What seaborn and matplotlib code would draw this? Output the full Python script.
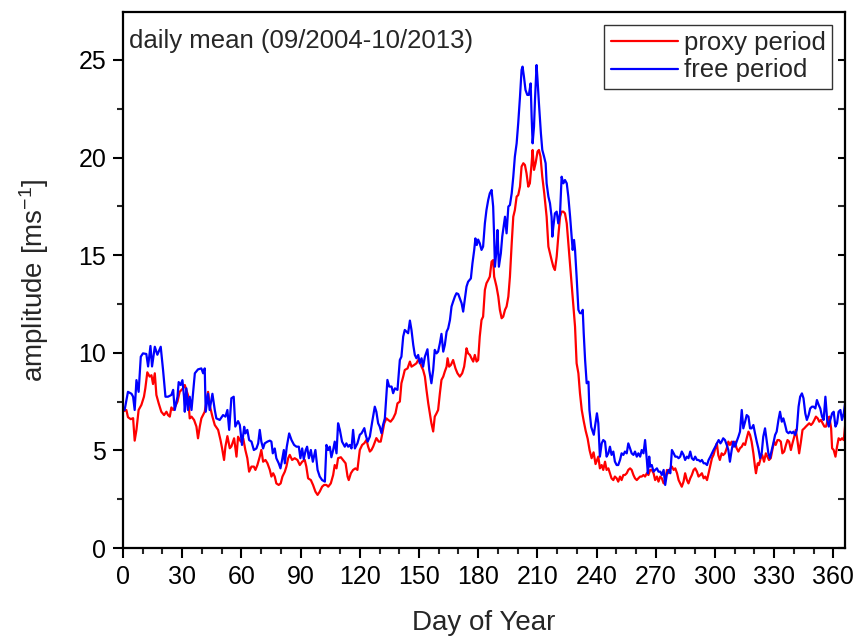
import numpy as np
import pandas as pd
import matplotlib
matplotlib.use("Agg")
import matplotlib.pyplot as plt
import seaborn as sns
from matplotlib.ticker import MultipleLocator

# ---- data (day of year, amplitude m/s) ----
proxy_day = [
    0.0, 1.7, 2.5, 3.9, 5.1, 5.9, 6.8, 7.9, 9.3, 10.6, 11.3, 12.3, 13.5, 14.4, 15.2, 16.1, 16.9, 18.1, 19.4, 20.8,
    22.0, 22.8, 23.7, 24.5, 25.4, 26.2, 27.6, 28.7, 30.4, 31.3, 32.1, 32.9, 33.8, 34.7, 36.0, 37.2, 38.0, 38.9, 39.7,
    41.4, 42.3, 43.1, 43.9, 45.3, 46.5, 48.2, 49.4, 50.2, 51.2, 51.9, 52.9, 54.1, 54.9, 56.3, 57.5, 58.3, 59.7, 60.9,
    62.0, 63.0, 63.9, 65.1, 66.3, 67.1, 68.1, 69.3, 70.1, 71.0, 72.2, 73.2, 74.4, 75.2, 76.1, 76.9, 77.7, 78.9, 79.9,
    80.8, 82.0, 82.8, 83.7, 84.5, 85.7, 87.0, 88.4, 89.6, 90.8, 92.1, 92.9, 93.8, 95.2, 96.3, 97.5, 98.6, 99.7, 100.9,
    101.9, 103.1, 104.0, 105.3, 106.5, 107.3, 108.2, 109.0, 110.4, 111.5, 112.8, 113.8, 114.4, 115.5, 116.6, 117.8,
    118.8, 120.0, 121.2, 122.3, 123.4, 124.2, 125.1, 125.9, 126.8, 128.4, 129.6, 130.6, 131.3, 132.4, 133.5, 134.4,
    135.6, 136.9, 138.1, 139.1, 140.3, 141.1, 142.0, 142.8, 144.2, 145.4, 146.2, 147.6, 148.7, 149.6, 150.4, 151.3,
    152.1, 153.0, 153.8, 154.7, 155.5, 156.3, 157.2, 158.0, 158.9, 159.7, 160.6, 161.4, 162.3, 163.1, 164.0, 164.5,
    165.3, 166.2, 167.3, 168.5, 169.5, 170.7, 171.9, 172.9, 173.6, 174.1, 174.9, 175.8, 176.6, 177.5, 178.3, 179.2,
    180.0, 180.8, 181.7, 182.5, 183.4, 184.2, 185.1, 185.9, 186.8, 187.6, 188.1, 189.3, 190.2, 191.0, 191.9, 192.7,
    193.6, 194.4, 195.3, 196.1, 197.0, 197.8, 198.6, 199.5, 200.3, 201.2, 202.0, 202.9, 203.7, 204.5, 205.4, 206.2,
    207.1, 207.6, 208.3, 209.1, 210.1, 210.8, 211.6, 212.5, 213.5, 214.7, 215.6, 216.4, 217.2, 218.1, 218.9, 219.8,
    220.6, 221.5, 222.3, 223.2, 224.0, 224.9, 225.7, 227.4, 229.1, 229.9, 230.8, 231.6, 232.5, 233.5, 234.5, 235.5,
    236.5, 237.5, 238.5, 239.5, 240.9, 241.7, 242.6, 243.4, 244.3, 245.1, 246.0, 246.8, 247.6, 248.5, 249.3, 250.2,
    251.0, 251.9, 252.7, 253.6, 254.4, 255.3, 256.1, 257.0, 257.8, 258.7, 259.5, 260.4, 261.2, 262.1, 262.9, 263.8,
    264.6, 265.5, 266.3, 267.2, 268.0, 268.9, 269.7, 270.6, 271.4, 272.3, 273.1, 274.0, 274.8, 275.7, 276.5, 277.4,
    278.2, 279.1, 279.9, 280.8, 281.6, 282.4, 283.2, 284.1, 284.9, 285.8, 286.6, 287.5, 288.3, 289.2, 290.0, 290.9,
    291.7, 292.6, 293.4, 294.3, 295.1, 296.0, 296.8, 297.7, 298.5, 299.3, 300.2, 301.0, 301.7, 302.5, 303.4, 304.2,
    305.1, 306.0, 306.8, 307.6, 308.5, 309.3, 310.2, 311.0, 311.9, 312.7, 313.6, 314.4, 315.3, 316.1, 317.0, 317.8,
    318.6, 319.5, 320.3, 320.8, 321.7, 322.3, 323.2, 324.0, 324.9, 325.8, 326.6, 327.4, 328.3, 329.1, 330.0, 330.8,
    331.7, 332.5, 333.4, 334.2, 335.1, 336.0, 336.8, 337.6, 338.5, 339.3, 340.2, 341.0, 341.9, 342.7, 343.6, 344.4,
    345.3, 346.1, 346.9, 347.8, 348.7, 349.5, 350.4, 351.2, 352.1, 352.9, 353.8, 354.6, 355.5, 356.3, 357.2, 358.0,
    358.9, 359.4, 360.2, 361.1, 361.9, 362.7, 363.6, 364.4, 365.3, 366.1,
]
proxy_amp = [
    7.0, 7.07, 6.7, 6.6, 6.65, 5.5, 6.05, 7.07, 7.33, 7.75, 8.18, 9.0, 8.78, 8.85, 8.4, 8.95, 7.84, 7.4, 6.98, 6.81,
    6.98, 6.81, 6.73, 7.2, 7.07, 7.2, 7.5, 8.0, 8.18, 8.35, 8.1, 7.84, 6.64, 6.73, 6.56, 6.22, 5.62, 6.22, 6.64,
    6.98, 7.5, 8.0, 7.33, 6.73, 6.3, 6.05, 5.53, 5.11, 4.51, 5.2, 5.73, 5.11, 5.2, 5.62, 4.68, 5.7, 5.45, 5.62,
    5.02, 4.6, 3.91, 4.17, 4.17, 4.0, 4.25, 4.68, 5.02, 4.42, 4.51, 4.34, 4.0, 3.66, 3.83, 3.66, 3.31, 3.23, 3.31,
    3.66, 3.91, 4.17, 4.6, 4.77, 4.51, 4.6, 4.51, 4.25, 4.42, 4.51, 4.17, 3.57, 3.48, 3.23, 2.89, 2.72, 2.89, 3.14,
    3.23, 3.23, 3.14, 3.31, 3.74, 4.25, 4.08, 4.6, 4.65, 4.51, 4.34, 3.66, 3.48, 3.83, 4.0, 4.08,
    4.0, 5.02, 5.28, 5.37, 5.54, 5.2, 4.94, 5.02, 5.2, 5.63, 5.45, 5.45, 5.8, 6.39, 6.64, 6.56,
    6.47, 6.64, 6.9, 7.41, 7.5, 8.44, 8.78, 9.12, 9.2, 9.55, 9.29, 9.38, 9.46, 9.63, 9.55, 9.29,
    9.12, 8.78, 8.1, 7.41, 6.9, 6.39, 5.97, 6.73, 6.9, 7.07, 7.93, 8.61, 8.78, 9.04, 9.29, 9.72,
    9.29, 9.38, 9.63, 9.2, 8.95, 8.78, 8.95, 9.29, 9.8, 10.23, 9.97, 9.89, 9.72, 9.55, 9.89, 9.55,
    9.63, 10.83, 11.68, 11.85, 13.22, 13.56, 13.73, 13.9, 14.67, 14.75, 13.9, 13.39, 12.88, 12.2, 11.77, 11.85,
    12.2, 12.37, 12.88, 13.9, 15.61, 16.97, 17.31, 18.0, 18.08, 18.51, 19.54, 19.71, 19.62, 19.2, 18.51, 18.68,
    19.71, 20.39, 19.37, 19.71, 20.31, 20.39, 20.05, 19.02, 18.17, 16.97, 15.44, 15.1, 14.76, 14.41, 14.24, 14.93,
    15.95, 16.97, 17.23, 17.23, 17.14, 16.63, 15.61, 13.39, 11.34, 9.46, 8.95, 7.93, 7.07, 6.5, 6.0, 5.6,
    5.0, 4.6, 4.9, 4.3, 4.68, 4.08, 4.25, 4.0, 4.42, 4.0, 4.08, 3.83, 3.57, 3.48, 3.66, 3.57,
    3.4, 3.66, 3.48, 3.74, 3.74, 3.83, 4.0, 4.08, 4.0, 3.74, 3.57, 3.48, 3.57, 3.66, 3.66, 3.74,
    3.66, 3.83, 3.74, 4.0, 4.0, 3.83, 3.48, 3.66, 3.4, 3.66, 3.57, 3.31, 3.48, 4.0, 3.83, 4.08,
    4.17, 4.0, 4.08, 3.83, 3.48, 3.31, 3.14, 3.4, 3.83, 3.48, 3.31, 3.57, 3.74, 4.0, 4.08, 3.91,
    3.66, 3.74, 3.83, 3.57, 3.66, 3.48, 3.83, 4.25, 4.6, 4.77, 5.11, 5.36, 4.76, 4.51, 4.85, 4.76,
    4.85, 5.11, 5.45, 5.28, 5.45, 5.19, 5.45, 5.11, 4.94, 5.11, 5.19, 5.36, 5.28, 5.62, 5.96, 5.79,
    5.45, 4.85, 4.17, 3.83, 4.34, 4.25, 4.6, 4.76, 4.42, 4.85, 4.68, 4.51, 4.6, 5.02, 5.45, 5.28,
    5.53, 5.53, 5.45, 4.85, 4.94, 5.28, 5.53, 5.45, 5.02, 5.36, 5.7, 6.05, 5.45, 4.85, 5.45, 6.05,
    6.13, 6.22, 6.3, 6.39, 6.3, 6.39, 6.56, 6.73, 6.64, 6.47, 6.56, 6.39, 6.22, 6.22, 6.56, 6.73,
    6.13, 5.11, 5.02, 4.68, 5.19, 5.62, 5.53, 5.62, 5.53, 6.39,
]

free_day = [
    0.0, 0.8, 2.5, 4.3, 5.1, 5.9, 6.8, 7.9, 9.0, 10.1, 11.8, 12.7, 13.9, 14.7, 16.1, 17.4, 19.1, 20.3, 21.5, 22.8,
    24.5, 25.4, 26.2, 27.6, 28.2, 29.2, 30.1, 30.9, 31.3, 32.1, 32.9, 33.8, 34.7, 36.4, 38.0, 39.7, 40.6, 41.4, 41.9,
    43.1, 43.9, 45.3, 46.5, 47.3, 49.0, 50.7, 51.9, 52.9, 53.8, 54.9, 56.1, 56.9, 58.3, 59.2, 60.3, 61.4, 62.0, 63.0,
    63.9, 65.1, 66.3, 67.6, 68.5, 69.3, 70.1, 71.0, 71.8, 73.2, 74.4, 75.2, 75.9, 76.9, 77.7, 78.9, 79.8, 80.6, 81.5,
    82.0, 83.0, 84.2, 85.4, 86.7, 87.9, 89.1, 89.9, 90.8, 91.6, 92.6, 93.3, 94.2, 95.2, 96.2, 97.5, 98.6, 99.7, 100.9,
    102.3, 103.1, 104.0, 104.8, 105.6, 106.5, 107.3, 108.2, 109.0, 109.9, 111.0, 112.4, 113.2, 114.1, 114.9, 115.8,
    116.6, 117.5, 118.8, 120.0, 120.9, 122.3, 123.0, 124.0, 125.1, 126.3, 127.6, 128.4, 129.3, 130.1, 131.0, 131.8,
    132.7, 134.0, 134.9, 136.1, 136.9, 137.8, 139.1, 140.3, 141.1, 142.0, 142.8, 143.7, 144.5, 145.4, 146.2, 147.1,
    147.9, 148.7, 149.6, 150.4, 151.3, 152.1, 153.0, 154.3, 155.2, 156.0, 156.3, 157.2, 158.0, 158.9, 159.7, 160.6,
    161.4, 162.3, 163.1, 164.0, 164.8, 165.7, 166.5, 167.3, 168.2, 169.0, 169.9, 170.7, 171.6, 172.4, 173.3, 174.1,
    174.9, 176.3, 177.1, 178.0, 178.6, 179.3, 180.0, 180.8, 181.7, 182.5, 183.4, 184.2, 185.1, 185.9, 186.8, 187.6,
    188.1, 188.5, 189.3, 189.8, 190.5, 191.5, 192.2, 193.6, 194.4, 195.3, 196.1, 197.0, 197.8, 198.6, 199.5, 200.3,
    201.2, 202.0, 202.5, 203.2, 204.0, 204.9, 205.7, 206.6, 207.1, 207.6, 208.3, 208.8, 209.6, 210.1, 210.8, 211.8,
    212.5, 213.4, 214.2, 214.7, 215.6, 216.4, 217.2, 217.6, 218.1, 218.9, 219.8, 220.6, 221.5, 222.3, 223.2, 224.0,
    224.9, 225.7, 226.6, 227.4, 227.9, 228.6, 229.1, 229.9, 230.8, 231.6, 232.5, 233.0, 233.5, 234.2, 235.0, 235.9,
    236.4, 237.3, 238.6, 240.2, 240.9, 241.7, 242.6, 243.4, 244.3, 245.1, 246.0, 246.8, 247.6, 248.5, 249.3, 250.2,
    251.0, 251.9, 252.7, 253.6, 254.4, 255.3, 256.1, 257.0, 257.8, 258.7, 259.5, 260.4, 261.2, 262.1, 262.9, 263.8,
    264.6, 265.5, 266.0, 266.7, 267.2, 268.0, 268.9, 269.7, 270.6, 271.4, 272.3, 273.1, 274.0, 274.8, 275.7, 276.5,
    277.4, 278.2, 279.1, 279.9, 280.8, 281.6, 282.4, 283.2, 284.1, 284.9, 285.8, 286.6, 287.5, 288.3, 289.2, 290.0,
    290.9, 291.7, 292.6, 293.4, 294.3, 295.1, 296.0, 296.8, 297.7, 298.5, 299.3, 300.2, 301.0, 301.9, 302.8, 303.4,
    304.2, 305.1, 306.0, 306.8, 307.6, 308.5, 309.3, 310.2, 311.0, 311.9, 312.7, 313.6, 314.4, 315.3, 316.1, 317.0,
    317.8, 318.6, 319.5, 320.3, 321.2, 322.0, 322.9, 323.7, 324.5, 325.4, 326.3, 327.1, 327.9, 328.8, 329.6, 330.5,
    331.3, 332.2, 333.0, 333.9, 334.7, 335.6, 336.4, 337.3, 338.1, 339.0, 339.8, 340.7, 341.5, 342.4, 343.2, 344.1,
    344.9, 345.8, 346.6, 347.5, 348.3, 349.2, 350.0, 350.9, 351.7, 352.6, 353.4, 354.3, 355.1, 356.0, 356.9, 357.7,
    358.5, 359.4, 360.2, 361.1, 361.9, 362.7, 363.6, 364.4, 365.3, 366.1,
]
free_amp = [
    7.1, 7.07, 8.0, 7.9, 7.75, 7.07, 8.6, 8.0, 9.8, 9.97, 9.94, 9.3, 10.35, 9.3, 10.31, 9.9, 10.31, 9.1, 7.75, 7.75,
    7.84, 8.1, 7.07, 7.75, 8.5, 8.35, 8.6, 7.75, 6.98, 8.18, 7.07, 7.75, 7.07, 8.95, 9.15, 9.2, 8.95, 9.2, 6.98,
    7.9, 7.07, 7.9, 7.07, 6.64, 6.56, 6.81, 6.73, 7.07, 6.05, 7.67, 7.75, 6.22, 6.5, 6.3, 5.28, 6.21, 5.87, 6.05,
    5.53, 5.45, 5.02, 5.1, 5.36, 6.05, 5.45, 5.1, 5.36, 5.45, 5.5, 5.45, 4.85, 5.1, 4.6, 4.34, 4.08, 4.5, 5.02,
    4.34, 5.19, 5.87, 5.53, 5.28, 5.19, 5.19, 4.6, 5.1, 4.55, 5.02, 5.19, 4.6, 5.02, 4.42, 5.02, 4.0, 3.66, 3.48,
    3.4, 5.28, 5.02, 5.19, 4.65, 5.02, 5.45, 4.85, 6.39, 6.05, 5.45, 5.19, 5.36, 5.19, 5.28, 5.1,
    6.05, 5.1, 5.36, 5.8, 5.88, 6.14, 5.79, 5.45, 5.71, 6.47, 7.24, 6.98, 6.39, 6.22, 5.88, 6.31,
    6.64, 8.61, 8.27, 8.27, 7.93, 8.18, 8.1, 9.63, 9.8, 10.83, 11.17, 11.08, 11.0, 11.65, 11.17, 10.4,
    9.89, 9.72, 9.89, 9.46, 9.72, 9.29, 9.8, 10.18, 9.12, 8.61, 8.44, 9.12, 10.15, 9.97, 10.06, 10.49,
    10.97, 10.06, 10.4, 11.08, 11.25, 11.68, 12.37, 12.62, 12.88, 13.05, 13.01, 12.79, 12.54, 12.11, 12.79, 13.39,
    13.64, 13.81, 14.58, 15.27, 15.86, 15.52, 15.8, 15.61, 15.27, 15.44, 16.63, 17.31, 17.83, 18.17, 18.34, 17.49,
    15.95, 14.41, 15.27, 16.29, 14.41, 15.1, 15.95, 16.97, 16.12, 17.49, 17.57, 18.17, 19.02, 20.05, 20.73, 21.76,
    23.12, 24.49, 24.66, 24.15, 23.46, 23.21, 23.21, 23.8, 22.1, 20.73, 21.58, 22.95, 24.74, 23.97, 22.78, 21.24,
    20.39, 20.05, 19.71, 18.68, 18.0, 17.66, 16.97, 15.95, 16.46, 17.14, 17.23, 16.63, 17.14, 19.02, 18.68, 18.85,
    18.68, 18.0, 16.97, 15.95, 15.27, 15.78, 15.27, 13.9, 12.2, 12.03, 12.03, 12.2, 11.0, 9.63, 8.44, 8.52,
    7.07, 6.2, 5.8, 6.9, 6.39, 4.68, 5.36, 5.53, 5.45, 4.68, 4.85, 5.19, 4.77, 4.94, 4.43, 4.25,
    4.25, 4.51, 4.85, 4.77, 4.94, 4.85, 5.36, 5.1, 4.85, 4.77, 4.94, 4.68, 4.85, 4.68, 5.02, 4.85,
    5.53, 4.51, 3.83, 4.68, 4.17, 4.25, 3.91, 4.0, 4.08, 3.91, 3.91, 3.74, 4.0, 3.23, 3.83, 4.0,
    3.83, 5.02, 4.85, 4.68, 4.68, 4.6, 4.68, 4.94, 4.77, 4.51, 4.68, 4.6, 4.94, 4.6, 4.51, 4.68,
    4.51, 4.51, 4.43, 4.51, 4.34, 4.34, 4.25, 4.51, 4.68, 4.85, 5.02, 5.19, 5.36, 5.53, 5.36, 5.45,
    5.62, 5.53, 5.28, 5.02, 4.42, 5.02, 5.45, 5.19, 5.45, 5.7, 5.96, 7.07, 6.13, 6.47, 6.81, 6.73,
    6.13, 6.13, 6.3, 5.88, 5.45, 5.11, 4.6, 4.85, 5.7, 6.13, 5.45, 4.85, 4.6, 5.02, 5.36, 5.79,
    5.96, 6.56, 6.98, 6.47, 6.64, 6.3, 5.96, 5.88, 5.96, 5.88, 5.96, 5.79, 6.05, 7.24, 7.75, 7.92,
    7.67, 6.9, 6.56, 6.81, 7.15, 7.24, 7.24, 7.15, 7.58, 7.33, 7.15, 6.73, 6.56, 7.75, 6.56, 6.22,
    6.56, 6.9, 6.98, 6.22, 6.39, 6.98, 7.07, 6.56, 6.9, 7.5,
]

series_labels = ["proxy period", "free period"]
series_colors = ["#ff0000", "#0000ff"]
x_ticks = [0, 30, 60, 90, 120, 150, 180, 210, 240, 270, 300, 330, 360]
y_ticks = [0, 5, 10, 15, 20, 25]
annotation = "daily mean (09/2004-10/2013)"

df = pd.concat([
    pd.DataFrame({"day": proxy_day, "amp": proxy_amp, "series": series_labels[0]}),
    pd.DataFrame({"day": free_day, "amp": free_amp, "series": series_labels[1]}),
], ignore_index=True)

sns.set_style("ticks")
plt.rcParams["font.family"] = ["Liberation Sans", "DejaVu Sans"]
plt.rcParams["mathtext.fontset"] = "custom"
plt.rcParams["mathtext.rm"] = "Liberation Sans"
plt.rcParams["mathtext.it"] = "Liberation Sans"

fig = plt.figure(figsize=(8.58, 6.39), dpi=100)
ax = fig.add_axes([0.1434, 0.1424, 0.8416, 0.8386])

sns.lineplot(data=df, x="day", y="amp", hue="series", palette=dict(zip(series_labels, series_colors)),
             estimator=None, sort=False, linewidth=1.6, ax=ax)

ax.set_xlim(0, 366)
ax.set_ylim(0, 27.45)
ax.set_xticks(x_ticks)
ax.set_yticks(y_ticks)
ax.xaxis.set_minor_locator(MultipleLocator(10))
ax.yaxis.set_minor_locator(MultipleLocator(2.5))
ax.tick_params(axis="both", which="major", direction="out", length=7, width=1.5, labelsize=18, pad=5,
               colors="black")
ax.tick_params(axis="both", which="minor", direction="out", length=4, width=1.5)
ax.tick_params(axis="y", which="both", right=True, labelright=False)

for s in ax.spines.values():
    s.set_linewidth(1.6)
    s.set_color("black")

# right axis ticks point inward
for t in ax.yaxis.get_major_ticks() + ax.yaxis.get_minor_ticks():
    t.tick2line.set_marker(matplotlib.lines.TICKLEFT)
    t.tick2line.set_markersize(5)

ax.set_xlabel("Day of Year", fontsize=20, labelpad=15)
ax.set_ylabel(r"amplitude [ms$^{\mathregular{-1}}$]", fontsize=20, labelpad=20)

ax.text(0.008, 0.968, annotation, transform=ax.transAxes, ha="left", va="top", fontsize=18.5)

leg = ax.legend(loc="upper right", fontsize=18.5, frameon=True, fancybox=False, handlelength=2.6,
                handletextpad=0.25, borderpad=0.25, labelspacing=0.12, borderaxespad=0.5)
leg.get_frame().set_edgecolor("black")
leg.get_frame().set_linewidth(1.0)
for h in leg.get_lines():
    h.set_linewidth(1.6)

fig.savefig("out.png", dpi=100)
